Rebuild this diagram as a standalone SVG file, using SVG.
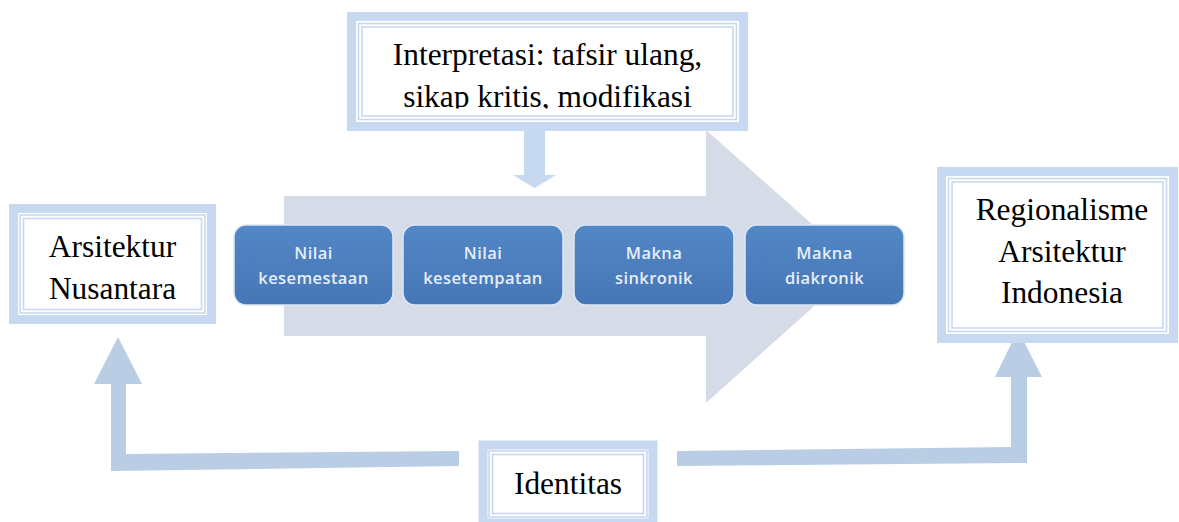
<svg xmlns="http://www.w3.org/2000/svg" width="1179" height="522" viewBox="0 0 1179 522">
  <defs>
    <linearGradient id="blueFill" x1="0" y1="0" x2="0" y2="1">
      <stop offset="0" stop-color="#5387c6"/>
      <stop offset="1" stop-color="#4676b6"/>
    </linearGradient>
    <clipPath id="topClip">
      <rect x="347" y="12" width="401" height="96.5"/>
    </clipPath>
    <style>
      .band { fill: none; stroke: #c6d9f1; stroke-width: 9; }
      .thin { fill: none; stroke: #c6d9f1; stroke-width: 1.6; }
      .inner { fill: #ffffff; }
      .label { font-family: "Liberation Serif", "Times New Roman", serif; font-size: 31.4px; fill: #000000; text-anchor: middle; }
      .step { fill: url(#blueFill); stroke: #dce8f6; stroke-width: 1.5; }
      .steptext { font-family: "Open Sans", "Liberation Sans", sans-serif; font-size: 16.5px; font-weight: 600; fill: #e6eef9; text-anchor: middle; letter-spacing: 0.4px; }
      .conn { fill: #b9cde5; }
      .down { fill: #c6d9f1; }
      .bigarrow { fill: #d5dbe7; }
    </style>
  </defs>
  <rect x="0" y="0" width="1179" height="522" fill="#ffffff"/>

  <g id="process-arrow">
    <polygon class="bigarrow" points="284,196 706,196 706,130 859,266 706,403 706,336 284,336"/>
  </g>

  <g id="connectors">
    <polygon class="down" points="524,131 545,131 545,175 556,175 534.5,188 513,175 524,175"/>
    <polygon class="conn" points="459,451 126,454 126,384 142,384 118,337 94,384 111,384 111,471 459,466"/>
    <polygon class="conn" points="677,451 1011,447 1011,377 995,377 1018,330 1042,377 1027,377 1027,463 677,466"/>
  </g>

  <g id="node-interpretasi">
    <rect class="inner" x="347" y="12" width="401" height="119"/>
    <rect class="band" x="351.5" y="16.5" width="392" height="110"/>
    <rect class="thin" x="358.5" y="23.5" width="378" height="96"/>
    <rect class="thin" x="362" y="27" width="371" height="89"/>
    <g clip-path="url(#topClip)">
      <text class="label" x="547.5" y="65">Interpretasi: tafsir ulang,</text>
      <text class="label" x="547.5" y="107">sikap kritis, modifikasi</text>
    </g>
  </g>

  <g id="node-nilai-kesemestaan">
    <rect class="step" x="234" y="225" width="159" height="80" rx="12" ry="12"/>
    <text class="steptext" x="313.5" y="259">Nilai</text>
    <text class="steptext" x="313.5" y="284">kesemestaan</text>
  </g>
  <g id="node-nilai-kesetempatan">
    <rect class="step" x="403" y="225" width="160" height="80" rx="12" ry="12"/>
    <text class="steptext" x="483" y="259">Nilai</text>
    <text class="steptext" x="483" y="284">kesetempatan</text>
  </g>
  <g id="node-makna-sinkronik">
    <rect class="step" x="574" y="225" width="160" height="80" rx="12" ry="12"/>
    <text class="steptext" x="654" y="259">Makna</text>
    <text class="steptext" x="654" y="284">sinkronik</text>
  </g>
  <g id="node-makna-diakronik">
    <rect class="step" x="745" y="225" width="159" height="80" rx="12" ry="12"/>
    <text class="steptext" x="824.5" y="259">Makna</text>
    <text class="steptext" x="824.5" y="284">diakronik</text>
  </g>

  <g id="node-arsitektur-nusantara">
    <rect class="inner" x="9" y="204" width="207" height="120"/>
    <rect class="band" x="13.5" y="208.5" width="198" height="111"/>
    <rect class="thin" x="20" y="215" width="185" height="98"/>
    <rect class="thin" x="23.5" y="218.5" width="178" height="91"/>
    <text class="label" x="112.5" y="257">Arsitektur</text>
    <text class="label" x="112.5" y="299">Nusantara</text>
  </g>

  <g id="node-regionalisme">
    <rect class="inner" x="937" y="167" width="241" height="176"/>
    <rect class="band" x="941.5" y="171.5" width="232" height="167"/>
    <rect class="thin" x="948.5" y="178.5" width="218" height="153"/>
    <rect class="thin" x="952" y="182" width="211" height="146"/>
    <text class="label" x="1062" y="220">Regionalisme</text>
    <text class="label" x="1062" y="262">Arsitektur</text>
    <text class="label" x="1062" y="303">Indonesia</text>
  </g>

  <g id="node-identitas">
    <rect class="inner" x="479" y="441" width="178" height="86"/>
    <rect class="band" x="483" y="445" width="170" height="78"/>
    <rect class="thin" x="489" y="451" width="158" height="66"/>
    <rect class="thin" x="492.5" y="454.5" width="151" height="59"/>
    <text class="label" x="568" y="494">Identitas</text>
  </g>
</svg>
